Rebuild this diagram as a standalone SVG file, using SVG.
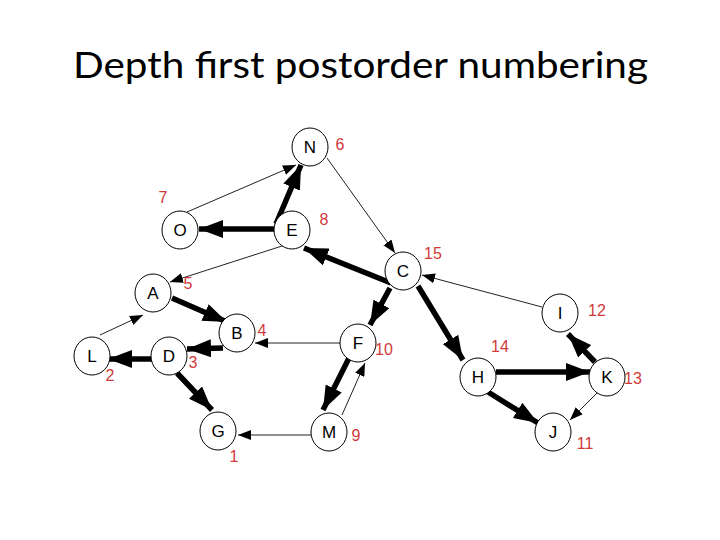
<svg xmlns="http://www.w3.org/2000/svg" width="720" height="540" viewBox="0 0 720 540">
<style>
.title{font-family:Lato,"Open Sans",sans-serif;font-size:36px;fill:#000}
.node ellipse{fill:#fff;stroke:#000;stroke-width:1}
.node text{font-family:"Liberation Sans",Arial,sans-serif;font-size:17px;fill:#000;text-anchor:middle}
.num{font-family:"Liberation Sans",Arial,sans-serif;font-size:16px;fill:#d03a3a;text-anchor:middle}
.thick{stroke:#000;stroke-width:5.5;fill:none;marker-end:url(#ah)}
.thin{stroke:#222;stroke-width:1;fill:none;marker-end:url(#al)}
</style>
<defs>
<marker id="ah" markerUnits="userSpaceOnUse" markerWidth="25" markerHeight="18" refX="24" refY="9" orient="auto"><path d="M0,0 L24,9 L0,18 Z" fill="#000"/></marker>
<marker id="al" markerUnits="userSpaceOnUse" markerWidth="14" markerHeight="10" refX="13" refY="5" orient="auto"><path d="M0,0 L13,5 L0,10 Z" fill="#000"/></marker>
</defs>
<rect width="720" height="540" fill="#fff"/>
<text class="title" x="73" y="78" textLength="575" lengthAdjust="spacingAndGlyphs">Depth first postorder numbering</text>
<g id="connectors">
<line class="thin" x1="187" y1="212" x2="296" y2="165"/>
<line class="thick" x1="276" y1="224" x2="301" y2="165"/>
<line class="thick" x1="276" y1="229" x2="199" y2="229"/>
<line class="thin" x1="327" y1="158" x2="395" y2="253"/>
<line class="thick" x1="391" y1="283" x2="304" y2="248"/>
<line class="thick" x1="390" y1="288" x2="370" y2="325"/>
<line class="thick" x1="418" y1="286" x2="463" y2="360"/>
<line class="thin" x1="542" y1="307" x2="422" y2="275"/>
<line class="thick" x1="595" y1="362" x2="568" y2="334"/>
<line class="thick" x1="496" y1="372" x2="590" y2="372"/>
<line class="thick" x1="488" y1="392" x2="538" y2="423"/>
<line class="thin" x1="597" y1="393" x2="570" y2="420"/>
<line class="thin" x1="282" y1="246" x2="170" y2="282"/>
<line class="thick" x1="172" y1="298" x2="227" y2="322"/>
<line class="thin" x1="100" y1="335" x2="143" y2="315"/>
<line class="thick" x1="223" y1="348" x2="187" y2="349"/>
<line class="thick" x1="152" y1="359" x2="108" y2="359"/>
<line class="thick" x1="177" y1="373" x2="212" y2="410"/>
<line class="thin" x1="342" y1="343" x2="255" y2="343"/>
<line class="thick" x1="349" y1="358" x2="323" y2="410"/>
<line class="thin" x1="342" y1="415" x2="365" y2="363"/>
<line class="thin" x1="311" y1="435" x2="238" y2="435"/>
</g>
<g id="N" class="node"><ellipse cx="310" cy="147" rx="18" ry="19"/><text x="310" y="153">N</text></g>
<g id="O" class="node"><ellipse cx="180" cy="230" rx="18" ry="19"/><text x="180" y="236">O</text></g>
<g id="E" class="node"><ellipse cx="292" cy="230" rx="18" ry="19"/><text x="292" y="236">E</text></g>
<g id="C" class="node"><ellipse cx="403" cy="271" rx="18" ry="19"/><text x="403" y="277">C</text></g>
<g id="A" class="node"><ellipse cx="153" cy="293" rx="18" ry="19"/><text x="153" y="299">A</text></g>
<g id="B" class="node"><ellipse cx="237" cy="333" rx="18" ry="19"/><text x="237" y="339">B</text></g>
<g id="L" class="node"><ellipse cx="92" cy="356" rx="18" ry="19"/><text x="92" y="362">L</text></g>
<g id="D" class="node"><ellipse cx="169" cy="356" rx="18" ry="19"/><text x="169" y="362">D</text></g>
<g id="F" class="node"><ellipse cx="358" cy="343" rx="18" ry="19"/><text x="358" y="349">F</text></g>
<g id="G" class="node"><ellipse cx="218" cy="431" rx="18" ry="19"/><text x="218" y="437">G</text></g>
<g id="M" class="node"><ellipse cx="329" cy="432" rx="18" ry="19"/><text x="329" y="438">M</text></g>
<g id="I" class="node"><ellipse cx="560" cy="313" rx="18" ry="19"/><text x="560" y="319">I</text></g>
<g id="H" class="node"><ellipse cx="478" cy="377" rx="18" ry="19"/><text x="478" y="383">H</text></g>
<g id="K" class="node"><ellipse cx="607" cy="377" rx="18" ry="19"/><text x="607" y="383">K</text></g>
<g id="J" class="node"><ellipse cx="553" cy="432" rx="18" ry="19"/><text x="553" y="438">J</text></g>
<g id="numbers">
<text class="num" x="340" y="150">6</text>
<text class="num" x="163" y="203">7</text>
<text class="num" x="324" y="225">8</text>
<text class="num" x="433" y="259">15</text>
<text class="num" x="188" y="289">5</text>
<text class="num" x="262" y="336">4</text>
<text class="num" x="110" y="381">2</text>
<text class="num" x="193" y="368">3</text>
<text class="num" x="384" y="355">10</text>
<text class="num" x="356" y="441">9</text>
<text class="num" x="234" y="462">1</text>
<text class="num" x="597" y="316">12</text>
<text class="num" x="500" y="352">14</text>
<text class="num" x="633" y="384">13</text>
<text class="num" x="585" y="449">11</text>
</g>
</svg>
